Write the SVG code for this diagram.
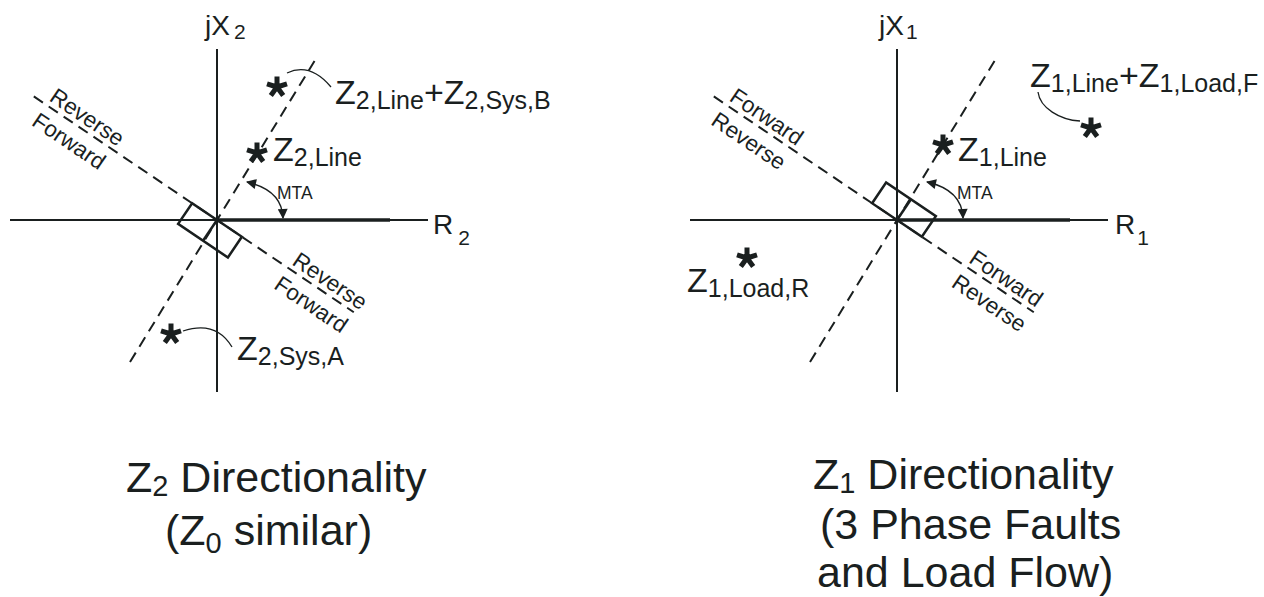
<svg xmlns="http://www.w3.org/2000/svg" xmlns:xlink="http://www.w3.org/1999/xlink" width="1264" height="597" viewBox="0 0 1264 597">
<style>
text{font-family:"Liberation Sans",Arial,Helvetica,sans-serif;fill:#1a1f1f}
.lbl{font-size:34px}
.sub{font-size:25px}
.ax{font-size:28px}
.axs{font-size:21px}
.rot{font-size:22.5px}
.mta{font-size:17.5px}
.ttl{font-size:43px}
.tsub{font-size:29px}
.axis{stroke:#1a1f1f;stroke-width:2;fill:none}
.thick{stroke:#1a1f1f;stroke-width:3.5;fill:none}
.dash{stroke:#1a1f1f;stroke-width:2;stroke-dasharray:11 7;fill:none}
.box{stroke:#1a1f1f;stroke-width:2.5;fill:none}
.lead{stroke:#1a1f1f;stroke-width:1.3;fill:none}
.arc{stroke:#1a1f1f;stroke-width:1.4;fill:none;marker-start:url(#ah);marker-end:url(#ah)}
</style>
<defs>
<marker id="ah" viewBox="0 0 10 10" refX="9" refY="5" markerWidth="12" markerHeight="10" markerUnits="userSpaceOnUse" orient="auto-start-reverse"><path d="M0,0 L10,5 L0,10 z" fill="#1a1f1f"/></marker>
<path id="star" d="M0,-10.5 L0,0 M10,-3.2 L0,0 M6.2,8.5 L0,0 M-6.2,8.5 L0,0 M-10,-3.2 L0,0" stroke="#1a1f1f" stroke-width="5" fill="none"/>
</defs>
<rect width="1264" height="597" fill="#ffffff"/>

<!-- LEFT DIAGRAM -->
<g id="left-axes">
<line class="axis" x1="217" y1="49" x2="217" y2="392"/>
<line class="axis" x1="10" y1="220" x2="428" y2="220"/>
<line class="thick" x1="217" y1="220" x2="390" y2="220"/>
<line class="dash" x1="130" y1="362" x2="317" y2="57"/>
<g transform="translate(217,220) rotate(34)">
<line class="dash" x1="-221" y1="0" x2="165" y2="0"/>
<rect class="box" x="-30" y="0" width="60" height="25"/>
<line class="box" x1="0" y1="0" x2="0" y2="25"/>
<text class="rot" x="-207" y="-5">Reverse</text>
<text class="rot" x="-208" y="25">Forward</text>
<text class="rot" x="86" y="-5">Reverse</text>
<text class="rot" x="84" y="25">Forward</text>
</g>
</g>
<g id="left-jX2"><text class="ax" x="205" y="35">jX<tspan class="axs" dx="4" dy="4">2</tspan></text></g>
<g id="left-R2"><text class="ax" x="433" y="234">R<tspan class="axs" dx="5" dy="11">2</tspan></text></g>
<g id="left-mta"><text class="mta" x="277" y="199">MTA</text></g>
<g id="z2-line-sysb"><use xlink:href="#star" x="277" y="87"/><text class="lbl" x="335" y="104">Z<tspan class="sub" dy="5">2,Line</tspan><tspan dy="-5">+Z</tspan><tspan class="sub" dy="5">2,Sys,B</tspan></text></g>
<g id="z2-line"><use xlink:href="#star" x="257" y="153"/><text class="lbl" x="273" y="161">Z<tspan class="sub" dy="5">2,Line</tspan></text></g>
<g id="z2-sys-a"><use xlink:href="#star" x="171" y="334"/><text class="lbl" x="237" y="360">Z<tspan class="sub" dy="5">2,Sys,A</tspan></text></g>
<g id="left-title">
<text class="ttl" x="126" y="492">Z<tspan class="tsub" dy="4">2</tspan><tspan dy="-4"> Directionality</tspan></text>
<text class="ttl" x="165" y="545">(Z<tspan class="tsub" dy="8">0</tspan><tspan dy="-8"> similar)</tspan></text>
</g>

<!-- RIGHT DIAGRAM -->
<g id="right-axes">
<line class="axis" x1="897" y1="49" x2="897" y2="392"/>
<line class="axis" x1="690" y1="220" x2="1108" y2="220"/>
<line class="thick" x1="897" y1="220" x2="1070" y2="220"/>
<line class="dash" x1="810" y1="362" x2="997" y2="57"/>
<g transform="translate(897,220) rotate(34)">
<line class="dash" x1="-221" y1="0" x2="165" y2="0"/>
<rect class="box" x="-30" y="-25" width="60" height="25"/>
<line class="box" x1="0" y1="-25" x2="0" y2="0"/>
<text class="rot" x="-207" y="-5">Forward</text>
<text class="rot" x="-209" y="25">Reverse</text>
<text class="rot" x="82" y="-5">Forward</text>
<text class="rot" x="81" y="25">Reverse</text>
</g>
</g>
<g id="right-jX1"><text class="ax" x="879" y="35">jX<tspan class="axs" dx="2" dy="4">1</tspan></text></g>
<g id="right-R1"><text class="ax" x="1115" y="234">R<tspan class="axs" dx="2" dy="11">1</tspan></text></g>
<g id="right-mta"><text class="mta" x="957" y="199">MTA</text></g>
<g id="z1-line"><use xlink:href="#star" x="943" y="145"/><text class="lbl" x="958" y="161">Z<tspan class="sub" dy="5">1,Line</tspan></text></g>
<g id="z1-line-loadf"><use xlink:href="#star" x="1091" y="128"/><text class="lbl" x="1030" y="87">Z<tspan class="sub" dy="5">1,Line</tspan><tspan dy="-5">+Z</tspan><tspan class="sub" dy="5">1,Load,F</tspan></text></g>
<g id="z1-load-r"><use xlink:href="#star" x="747" y="258"/><text class="lbl" x="687" y="292">Z<tspan class="sub" dy="5">1,Load,R</tspan></text></g>
<g id="right-title">
<text class="ttl" x="813" y="489">Z<tspan class="tsub" dy="4">1</tspan><tspan dy="-4"> Directionality</tspan></text>
<text class="ttl" x="820" y="539">(3 Phase Faults</text>
<text class="ttl" x="817" y="587">and Load Flow)</text>
</g>

<g id="connectors">
<path class="lead" d="M287,73 Q310,62 331,87"/>
<path class="lead" d="M183,331 Q216,320 232,347"/>
<path class="lead" d="M1038,92 C1040,108 1060,120 1080,121"/>
<path class="arc" d="M247,182 Q282,190 283,218"/>
<path class="arc" d="M927,182 Q962,190 963,218"/>
</g>
</svg>
